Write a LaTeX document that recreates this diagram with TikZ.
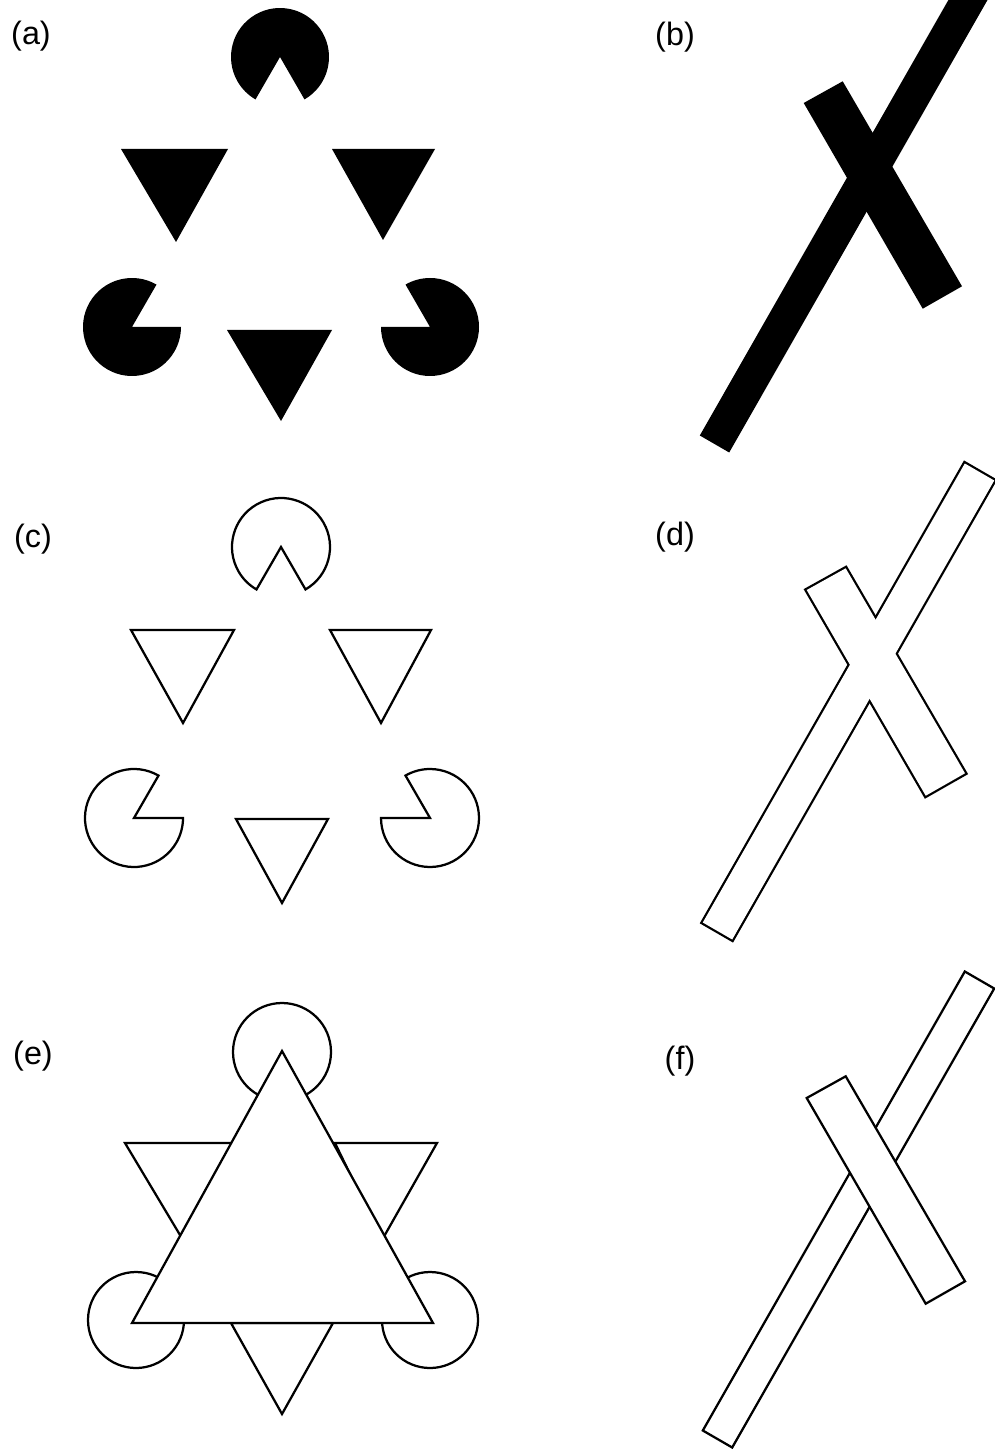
\documentclass[tikz,border=0pt]{standalone}
\usepackage{fontspec}
\setmainfont{Liberation Sans}
\usetikzlibrary{positioning}

\begin{document}
\begin{tikzpicture}[
  x=0.025cm, y=0.025cm,
  line join=miter,
  outline/.style = {draw=black, line width=1.6pt, fill=white},
  solid/.style   = {fill=black},
  rim/.style     = {draw=black, line width=3.2pt},
  panel/.style   = {inner sep=0pt, font=\fontsize{23}{27}\selectfont}
]
  \useasboundingbox (0,0) rectangle (994,-1450);

  % panel labels
  \node[panel] (la) at (31,-36)    {(a)};
  \node[panel] (lb) at (675,-37)   {(b)};
  \node[panel] (lc) at (33,-539)   {(c)};
  \node[panel] (ld) at (675,-537)  {(d)};
  \node[panel] (le) at (33,-1056)  {(e)};
  \node[panel] (lf) at (680,-1061) {(f)};

  % (a) solid inducers
  \foreach \cx/\cy/\a in {280/57/-60, 132/327/60, 430/327/180}
    \fill[solid] (\cx,-\cy) -- ++(\a:49) arc[start angle=\a, delta angle=300, radius=49] -- cycle;
  \foreach \ax/\bx/\ty/\px/\py in {121/228/149/176/242, 332/435/149/383/240, 227/332/330/281/421}
    \fill[solid] (\ax,-\ty) -- (\bx,-\ty) -- (\px,-\py) -- cycle;

  % (c) outlined inducers
  \foreach \cx/\cy/\a in {281/547/-60, 134/818/60, 430/818/180}
    \draw[outline] (\cx,-\cy) -- ++(\a:49) arc[start angle=\a, delta angle=300, radius=49] -- cycle;
  \foreach \ax/\bx/\ty/\px/\py in {131/234/630/183/723, 330/431/630/381/723, 236/328/819/282/903}
    \draw[outline] (\ax,-\ty) -- (\bx,-\ty) -- (\px,-\py) -- cycle;

  % (e) occluding triangle drawn in
  \foreach \cx/\cy/\r in {282/1052/49, 136/1320/48, 430/1320/48}
    \draw[outline] (\cx,-\cy) circle[radius=\r];
  \foreach \ax/\bx/\ty/\px/\py in {125/237/1143/183/1240, 335/437/1143/382/1240, 231/333/1323/282/1414}
    \draw[outline] (\ax,-\ty) -- (\bx,-\ty) -- (\px,-\py) -- cycle;
  \draw[outline] (282,-1051) -- (132,-1323) -- (433,-1323) -- cycle;

  % (b) solid cross
  \begin{scope}
    \clip (600,0) rectangle (994,-470);
    \begin{scope}[shift={(-3,487)}]
      \fill[solid] (702.8,-922.5) -- (732.2,-939.5) -- (994.2,-480.5) -- (964.8,-463.5) -- cycle;
      \fill[solid] (806.7,-590) -- (845.7,-568.3) -- (965,-773.3) -- (925.7,-795.7) -- cycle;
    \end{scope}
  \end{scope}

  % (d) outline of the joined bars
  \draw[rim] (702.8,-922.5) -- (732.2,-939.5) -- (994.2,-480.5) -- (964.8,-463.5) -- cycle;
  \draw[rim] (806.7,-590) -- (845.7,-568.3) -- (965,-773.3) -- (925.7,-795.7) -- cycle;
  \fill[white] (702.8,-922.5) -- (732.2,-939.5) -- (994.2,-480.5) -- (964.8,-463.5) -- cycle;
  \fill[white] (806.7,-590) -- (845.7,-568.3) -- (965,-773.3) -- (925.7,-795.7) -- cycle;

  % (f) one bar lying over the other
  \begin{scope}[shift={(0,-508)}]
    \draw[outline] (702.8,-922.5) -- (732.2,-939.5) -- (994.2,-480.5) -- (964.8,-463.5) -- cycle;
    \draw[outline] (806.7,-590) -- (845.7,-568.3) -- (965,-773.3) -- (925.7,-795.7) -- cycle;
  \end{scope}
\end{tikzpicture}
\end{document}
